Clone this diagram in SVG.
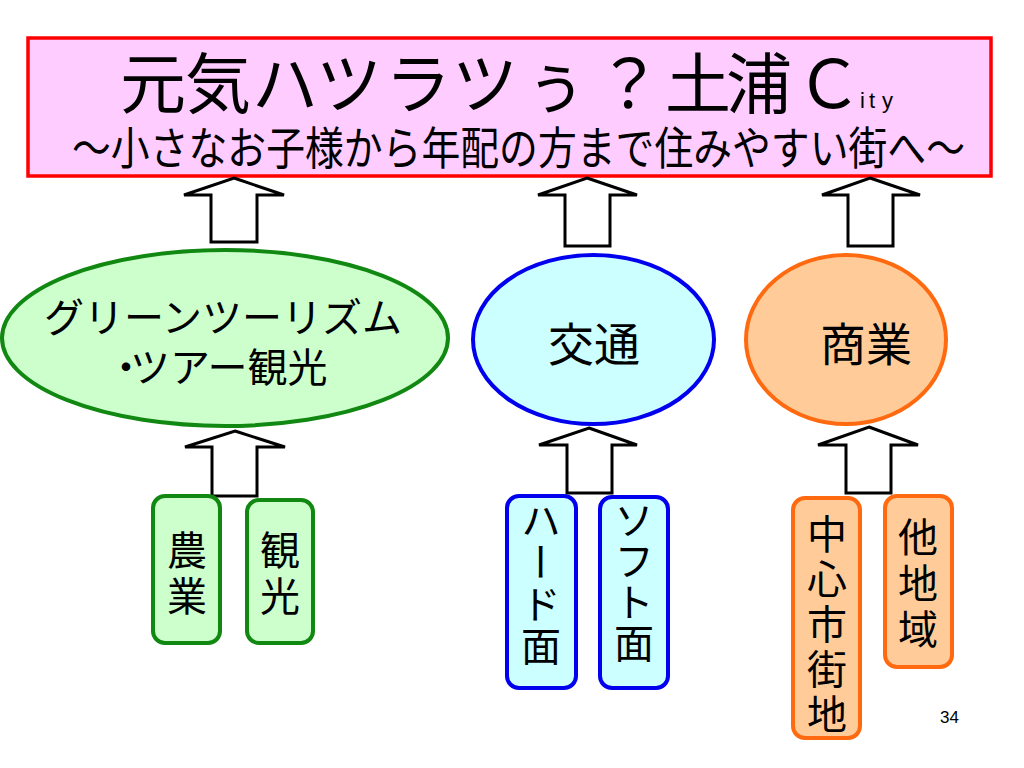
<svg xmlns="http://www.w3.org/2000/svg" width="1024" height="768" viewBox="0 0 1024 768">
<style>
.jp{font-family:"Noto Sans CJK JP","Noto Sans",sans-serif;fill:#000}
.v{font-size:40px;writing-mode:vertical-rl;text-anchor:start}
.arrow{fill:#fff;stroke:#000;stroke-width:3;stroke-linejoin:miter}
.g{fill:#CCFFCC;stroke:#118811;stroke-width:4}
.b{fill:#CCFFFF;stroke:#0000EE;stroke-width:4}
.o{fill:#FFCC99;stroke:#FF6A10;stroke-width:4}
</style>
<rect width="1024" height="768" fill="#fff"/>
<g id="title">
<rect x="28" y="38" width="963" height="138" fill="#FFCCFF" stroke="#FF0000" stroke-width="3.5"/>
<text class="jp" x="120 185 252 316 385 452 522 596 665 726 796" y="108" font-size="66">元気ハツラツぅ？土浦Ｃ<tspan x="860 869 882" font-size="22" font-family="Liberation Sans, sans-serif">ity</tspan></text>
<text class="jp" transform="translate(72,165) scale(1,1.2)" x="0" y="0" font-size="38" textLength="893" lengthAdjust="spacingAndGlyphs">～小さなお子様から年配の方まで住みやすい街へ～</text>
</g>
<g id="connectors">
<path class="arrow" d="M234,178 L284,195 L257,195 L257,242 L211,242 L211,195 L184,195 Z"/>
<path class="arrow" d="M587,178 L637,195 L610,195 L610,246 L565,246 L565,195 L538,195 Z"/>
<path class="arrow" d="M870,178 L920,195 L893,195 L893,246 L848,246 L848,195 L822,195 Z"/>
<path class="arrow" d="M235,431 L285,447 L257,447 L257,496 L212,496 L212,447 L185,447 Z"/>
<path class="arrow" d="M589,428 L637,445 L612,445 L612,493 L567,493 L567,445 L539,445 Z"/>
<path class="arrow" d="M869,427 L918,445 L891,445 L891,493 L846,493 L846,445 L818,445 Z"/>
</g>
<g id="green-tourism">
<ellipse class="g" cx="225" cy="338" rx="223" ry="88"/>
<text class="jp" x="223" y="332" font-size="40" text-anchor="middle">グリーンツーリズム</text>
<text class="jp" x="106" y="382" font-size="40">・<tspan x="130">ツアー観光</tspan></text>
</g>
<g id="traffic">
<ellipse class="b" cx="593.5" cy="339.5" rx="120.5" ry="84.5"/>
<text class="jp" x="594" y="361" font-size="46" text-anchor="middle">交通</text>
</g>
<g id="commerce">
<ellipse class="o" cx="846" cy="339.5" rx="100" ry="84.5"/>
<text class="jp" x="866" y="361" font-size="46" text-anchor="middle">商業</text>
</g>
<g id="agriculture">
<rect class="g" x="153" y="496" width="67" height="147" rx="12"/>
<text class="jp v" x="187" y="530" letter-spacing="6">農業</text>
</g>
<g id="sightseeing">
<rect class="g" x="247" y="500" width="66" height="143" rx="12"/>
<text class="jp v" x="280" y="530" letter-spacing="6">観光</text>
</g>
<g id="hard">
<rect class="b" x="507" y="496" width="69" height="192" rx="12"/>
<text class="jp v" x="541" y="500" letter-spacing="2">ハード面</text>
</g>
<g id="soft">
<rect class="b" x="600" y="497" width="68" height="191" rx="12"/>
<text class="jp v" x="634" y="500" letter-spacing="1">ソフト面</text>
</g>
<g id="downtown">
<rect class="o" x="793" y="498" width="67" height="240" rx="12"/>
<text class="jp v" x="827" y="514" letter-spacing="5">中心市街地</text>
</g>
<g id="other-areas">
<rect class="o" x="885" y="496" width="67" height="171" rx="12"/>
<text class="jp v" x="918" y="517" letter-spacing="6">他地域</text>
</g>
<text x="940" y="723" font-family="Liberation Sans, sans-serif" font-size="17">34</text>
</svg>
